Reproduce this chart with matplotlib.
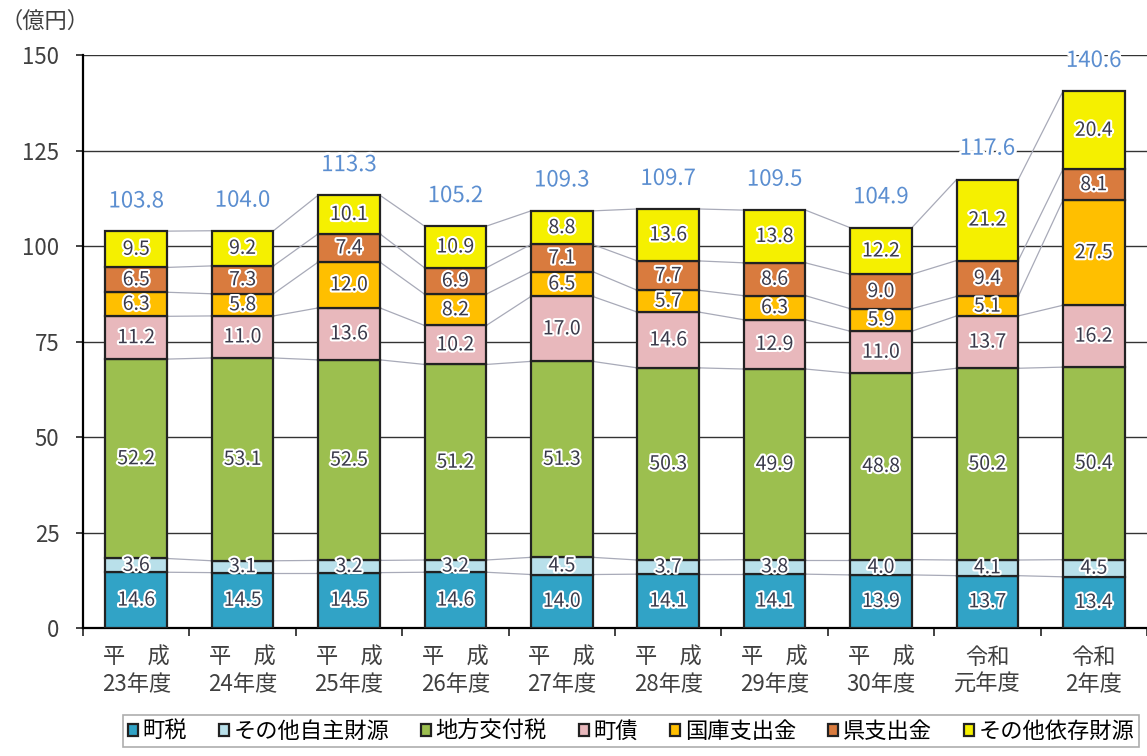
import matplotlib
matplotlib.use("Agg")
import matplotlib.pyplot as plt
import matplotlib.patheffects as pe
import numpy as np

plt.rcParams['font.family'] = ['Noto Sans CJK JP', 'DejaVu Sans']

categories = ["平　成\n23年度", "平　成\n24年度", "平　成\n25年度", "平　成\n26年度", "平　成\n27年度",
              "平　成\n28年度", "平　成\n29年度", "平　成\n30年度", "令和\n元年度", "令和\n2年度"]
series_names = ["町税", "その他自主財源", "地方交付税", "町債", "国庫支出金", "県支出金", "その他依存財源"]
town_tax = [14.6, 14.5, 14.5, 14.6, 14.0, 14.1, 14.1, 13.9, 13.7, 13.4]
other_own = [3.6, 3.1, 3.2, 3.2, 4.5, 3.7, 3.8, 4.0, 4.1, 4.5]
local_alloc = [52.2, 53.1, 52.5, 51.2, 51.3, 50.3, 49.9, 48.8, 50.2, 50.4]
town_bond = [11.2, 11.0, 13.6, 10.2, 17.0, 14.6, 12.9, 11.0, 13.7, 16.2]
national = [6.3, 5.8, 12.0, 8.2, 6.5, 5.7, 6.3, 5.9, 5.1, 27.5]
prefectural = [6.5, 7.3, 7.4, 6.9, 7.1, 7.7, 8.6, 9.0, 9.4, 8.1]
other_dep = [9.5, 9.2, 10.1, 10.9, 8.8, 13.6, 13.8, 12.2, 21.2, 20.4]
totals = [103.8, 104.0, 113.3, 105.2, 109.3, 109.7, 109.5, 104.9, 117.6, 140.6]

series = [town_tax, other_own, local_alloc, town_bond, national, prefectural, other_dep]
colors = ["#31a3c6", "#b9e0ea", "#9cbf4f", "#e8b8bc", "#ffbf00", "#d97b3e", "#f5f000"]

fig = plt.figure(figsize=(11.47, 7.56), dpi=100)
ax = fig.add_axes([0.0724, 0.1693, 0.9276, 0.7579])

x = np.arange(len(categories))
width = 0.58
bottom = np.zeros(len(categories))
cums = []
for vals, col, name in zip(series, colors, series_names):
    vals = np.array(vals)
    ax.bar(x, vals, width, bottom=bottom, color=col, edgecolor="#222222",
           linewidth=1.6, label=name, zorder=3)
    for xi, b, v in zip(x, bottom, vals):
        ax.text(xi, b + v / 2, f"{v:.1f}", ha="center", va="center", fontsize=14,
                color="#3a3a4a", zorder=5,
                path_effects=[pe.withStroke(linewidth=3, foreground="white")])
    bottom = bottom + vals
    cums.append(bottom.copy())

# connector lines between bars
for c in cums:
    for i in range(len(x) - 1):
        ax.plot([x[i] + width / 2, x[i + 1] - width / 2], [c[i], c[i + 1]],
                color="#a8aab8", linewidth=0.9, zorder=2)

for xi, t in zip(x, totals):
    ax.text(xi, t + 8, f"{t:.1f}", ha="center", va="center", fontsize=16,
            color="#5b8ed0", zorder=5,
            path_effects=[pe.withStroke(linewidth=4, foreground="white")])

ax.set_xlim(-0.5, len(categories) - 0.5)
ax.set_ylim(0, 150)
ax.set_yticks(np.arange(0, 151, 25))
ax.tick_params(axis="y", labelsize=16, length=5, width=1.2, colors="#222222",
               labelcolor="#404040", pad=12)
ax.set_xticks(x)
ax.set_xticklabels(categories, fontsize=16, color="#404040", linespacing=1.2)
ax.tick_params(axis="x", which="major", length=0, pad=13)
ax.set_xticks(np.arange(-0.5, len(categories), 1), minor=True)
ax.tick_params(axis="x", which="minor", length=6, width=1.2, colors="#222222")
ax.grid(axis="y", color="#333333", linewidth=1.0, zorder=0)
ax.set_axisbelow(True)
for s in ["top", "right"]:
    ax.spines[s].set_visible(False)
ax.spines["left"].set_linewidth(1.6)
ax.spines["bottom"].set_linewidth(1.6)

fig.text(0.0, 0.972, "（億円）", fontsize=16, color="#404040", ha="left", va="center")

leg = fig.legend(loc="center", bbox_to_anchor=(0.55, 0.033), ncol=7, fontsize=16,
                 frameon=True, fancybox=False, edgecolor="#999999", handlelength=0.45,
                 handleheight=0.45, handletextpad=0.2, columnspacing=1.45, borderpad=0.2)
leg.get_frame().set_linewidth(1.2)
for h in leg.legend_handles:
    h.set_linewidth(1.6)

fig.savefig("out.png", dpi=100)
